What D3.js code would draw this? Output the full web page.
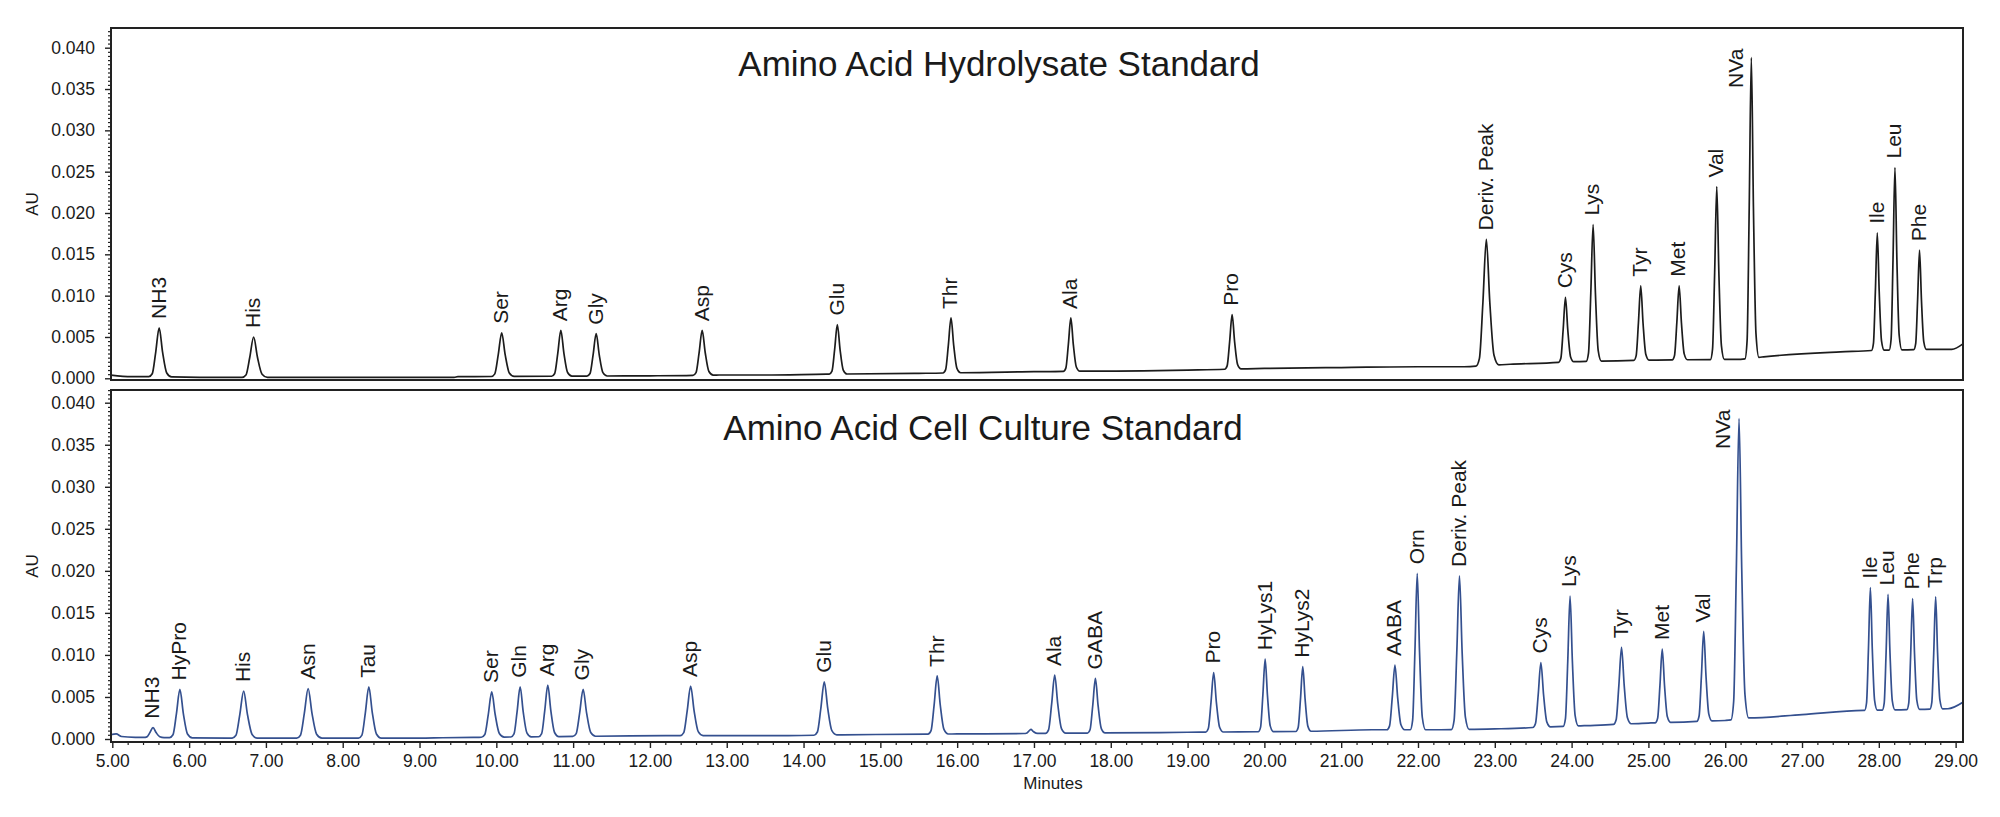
<!DOCTYPE html>
<html>
<head>
<meta charset="utf-8">
<script src="https://cdn.jsdelivr.net/npm/d3@7"></script>
<style>
  body { margin: 0; background: #fff; }
  text { font-family: "Liberation Sans", Arial, sans-serif; fill: #1a1a1a; }
</style>
</head>
<body>
<svg id="chart" width="2000" height="817"></svg>
<script>
// Hydrolysate standard (top trace): retention time (min), apex (AU), peak width at half height (min)
const hydroNames = ["NH3", "His", "Ser", "Arg", "Gly", "Asp", "Glu", "Thr", "Ala", "Pro",
  "Deriv. Peak", "Cys", "Lys", "Tyr", "Met", "Val", "NVa", "Ile", "Leu", "Phe"];
const hydroTimes = [5.61, 6.84, 10.07, 10.84, 11.30, 12.68, 14.44, 15.92, 17.48, 19.58,
  22.89, 23.92, 24.28, 24.90, 25.40, 25.89, 26.34, 27.98, 28.21, 28.53];
const hydroApex = [0.0061, 0.0050, 0.0055, 0.0058, 0.0054, 0.0058, 0.0065, 0.0073, 0.0073, 0.0077,
  0.0168, 0.0098, 0.0186, 0.0112, 0.0112, 0.0232, 0.0388, 0.0176, 0.0255, 0.0155];
const hydroWidths = [0.09, 0.10, 0.09, 0.08, 0.08, 0.08, 0.07, 0.07, 0.065, 0.065,
  0.09, 0.06, 0.06, 0.06, 0.06, 0.055, 0.055, 0.05, 0.05, 0.05];
// baseline drift of the top trace
const hydroBaseT = [4.98, 5.25, 5.45, 6.5, 9.45, 9.5, 12.0, 12.9, 13.5, 14.3, 15.5, 17.0, 19.0, 20.0,
  21.0, 22.0, 22.6, 23.2, 24.0, 25.0, 26.2, 26.5, 27.5, 28.0, 28.7, 28.95, 29.1];
const hydroBaseV = [0.0004, 0.0002, 0.0002, 0.0001, 0.0001, 0.0002, 0.0003, 0.0004, 0.0004, 0.0005,
  0.0006, 0.0008, 0.0010, 0.0012, 0.0013, 0.0014, 0.0014, 0.0017, 0.0020, 0.0022, 0.0023, 0.0026,
  0.0032, 0.0034, 0.0035, 0.0035, 0.0042];

// Cell culture standard (bottom trace)
const cellNames = ["NH3", "HyPro", "His", "Asn", "Tau", "Ser", "Gln", "Arg", "Gly", "Asp", "Glu", "Thr", "",
  "Ala", "GABA", "Pro", "HyLys1", "HyLys2", "AABA", "Orn", "Deriv. Peak", "Cys", "Lys", "Tyr", "Met",
  "Val", "NVa", "Ile", "Leu", "Phe", "Trp"];
const cellTimes = [5.53, 5.88, 6.71, 7.55, 8.34, 9.94, 10.31, 10.67, 11.13, 12.53, 14.27, 15.74, 16.96,
  17.27, 17.80, 19.34, 20.01, 20.50, 21.70, 21.99, 22.54, 23.60, 23.98, 24.65, 25.18,
  25.72, 26.18, 27.89, 28.12, 28.44, 28.74];
const cellApex = [0.00135, 0.0059, 0.0057, 0.0060, 0.0062, 0.0056, 0.0062, 0.0064, 0.0059, 0.0063, 0.0068, 0.0075, 0.00115,
  0.0076, 0.0072, 0.0079, 0.0095, 0.0086, 0.0088, 0.0197, 0.0194, 0.0091, 0.0170, 0.0109, 0.0107,
  0.0128, 0.0381, 0.0180, 0.0172, 0.0167, 0.0169];
const cellWidths = [0.08, 0.09, 0.10, 0.10, 0.09, 0.09, 0.08, 0.08, 0.09, 0.09, 0.09, 0.08, 0.06,
  0.08, 0.07, 0.07, 0.06, 0.06, 0.07, 0.06, 0.07, 0.07, 0.06, 0.07, 0.06,
  0.06, 0.07, 0.05, 0.05, 0.05, 0.05];
const cellBaseT = [4.98, 5.05, 5.12, 5.3, 6.5, 8.0, 9.0, 9.3, 9.7, 12.2, 13.0, 13.8, 14.5, 16.0, 17.6,
  19.0, 20.5, 21.4, 21.8, 22.3, 23.0, 23.6, 24.2, 25.0, 26.0, 26.3, 27.0, 27.8, 28.9, 29.1];
const cellBaseV = [0.0005, 0.0006, 0.0003, 0.0002, 0.0001, 0.0001, 0.0001, 0.00015, 0.0002, 0.0004, 0.0004,
  0.0004, 0.0005, 0.0006, 0.0007, 0.0008, 0.0009, 0.0011, 0.0011, 0.0011, 0.0012, 0.0014, 0.0016,
  0.0019, 0.0022, 0.0025, 0.0029, 0.0034, 0.0036, 0.0044];

const majorY = d3.range(0, 9).map((i) => i * 0.005);
const majorX = d3.range(5, 30);

const svg = d3.select("#chart");
const left = 111, right = 1963;
const x = d3.scaleLinear().domain([4.983, 29.096]).range([left, right]);

const panels = [
  { title: "Amino Acid Hydrolysate Standard", top: 28, bottom: 380, y0: 378.3, y40: 47.7,
    color: "#1c1c1c", titleX: 999, titleY: 76, names: hydroNames, times: hydroTimes,
    apex: hydroApex, widths: hydroWidths, baseT: hydroBaseT, baseV: hydroBaseV },
  { title: "Amino Acid Cell Culture Standard", top: 390, bottom: 742, y0: 739, y40: 402.7,
    color: "#34508f", titleX: 983, titleY: 440, names: cellNames, times: cellTimes,
    apex: cellApex, widths: cellWidths, baseT: cellBaseT, baseV: cellBaseV },
];

// knots for one peak, in units of its half-height width (slight tailing on the right)
const peakShape = [[-1.5, 0], [-1.0, 0.06], [-0.5, 0.5], [0, 1], [0.5, 0.5], [1.1, 0.08], [1.8, 0]];

function buildTrace(p) {
  const base = d3.scaleLinear().domain(p.baseT).range(p.baseV).clamp(true);
  const spans = p.times.map((t, i) => [t - 1.5 * p.widths[i], t + 1.8 * p.widths[i]]);
  const pts = [];
  p.baseT.forEach((t, i) => {
    if (!spans.some((s) => t > s[0] && t < s[1])) pts.push([t, p.baseV[i]]);
  });
  p.times.forEach((t, i) => {
    const h = p.apex[i] - base(t);
    peakShape.forEach(([k, f]) => {
      const tt = t + k * p.widths[i];
      pts.push([tt, base(tt) + f * h]);
    });
  });
  return pts.sort((a, b) => a[0] - b[0]);
}

panels.forEach((p, idx) => {
  const y = d3.scaleLinear().domain([0, 0.04]).range([p.y0, p.y40]);
  const g = svg.append("g");

  g.append("clipPath").attr("id", "clip" + idx)
    .append("rect").attr("x", left).attr("y", p.top).attr("width", right - left).attr("height", p.bottom - p.top);

  // y axis: major + minor ticks
  const minorY = d3.range(0, 90).map((i) => i * 0.0005).filter((v, i) => i % 10 !== 0 && y(v) >= p.top);
  g.append("g").attr("transform", `translate(${left},0)`)
    .call(d3.axisLeft(y).tickValues(minorY).tickSize(3).tickFormat(""))
    .call((a) => a.select(".domain").remove())
    .selectAll("line").attr("stroke", "#222").attr("stroke-width", 1.2);
  const ya = g.append("g").attr("transform", `translate(${left},0)`)
    .call(d3.axisLeft(y).tickValues(majorY).tickSize(6).tickPadding(10).tickFormat(d3.format(".3f")));
  ya.select(".domain").remove();
  ya.selectAll("line").attr("stroke", "#222").attr("stroke-width", 1.4);
  ya.selectAll("text").style("font-size", "17.5px").attr("fill", "#1a1a1a");

  g.append("text")
    .attr("transform", `translate(38,${(p.top + p.bottom) / 2}) rotate(-90)`)
    .attr("text-anchor", "middle")
    .style("font-size", "17px")
    .text("AU");

  // chromatogram trace
  const line = d3.line().x((d) => x(d[0])).y((d) => y(d[1])).curve(d3.curveMonotoneX);
  g.append("path")
    .datum(buildTrace(p))
    .attr("clip-path", `url(#clip${idx})`)
    .attr("fill", "none")
    .attr("stroke", p.color)
    .attr("stroke-width", 1.7)
    .attr("stroke-linejoin", "round")
    .attr("d", line);

  // peak labels, rotated; if no room above, put them left of the peak
  p.names.forEach((name, i) => {
    if (!name) return;
    const px = x(p.times[i]);
    const py = y(p.apex[i]) - 9;
    const t = g.append("text")
      .style("font-size", "21px")
      .attr("dy", "0.35em")
      .text(name);
    const len = t.node().getComputedTextLength();
    if (py - len < p.top + 3) {
      t.attr("transform", `translate(${px - 16},${py}) rotate(-90)`).attr("text-anchor", "end");
    } else {
      t.attr("transform", `translate(${px - 1},${py}) rotate(-90)`).attr("text-anchor", "start");
    }
  });

  g.append("text")
    .attr("x", p.titleX)
    .attr("y", p.titleY)
    .attr("text-anchor", "middle")
    .style("font-size", "35px")
    .text(p.title);

  g.append("rect")
    .attr("x", left).attr("y", p.top)
    .attr("width", right - left).attr("height", p.bottom - p.top)
    .attr("fill", "none").attr("stroke", "#222").attr("stroke-width", 2);

  // x axis only under the lower panel
  if (idx === 1) {
    const minorX = d3.range(0, 121).map((i) => 5 + i * 0.2).filter((v, i) => i % 5 !== 0);
    g.append("g").attr("transform", `translate(0,${p.bottom})`)
      .call(d3.axisBottom(x).tickValues(minorX).tickSize(3).tickFormat(""))
      .call((a) => a.select(".domain").remove())
      .selectAll("line").attr("stroke", "#222").attr("stroke-width", 1.2);
    const xa = g.append("g").attr("transform", `translate(0,${p.bottom})`)
      .call(d3.axisBottom(x).tickValues(majorX).tickSize(6).tickPadding(7).tickFormat(d3.format(".2f")));
    xa.select(".domain").remove();
    xa.selectAll("line").attr("stroke", "#222").attr("stroke-width", 1.4);
    xa.selectAll("text").style("font-size", "17.5px").attr("fill", "#1a1a1a");

    g.append("text")
      .attr("x", 1053).attr("y", 789)
      .attr("text-anchor", "middle")
      .style("font-size", "17px")
      .text("Minutes");
  }
});
</script>
</body>
</html>
